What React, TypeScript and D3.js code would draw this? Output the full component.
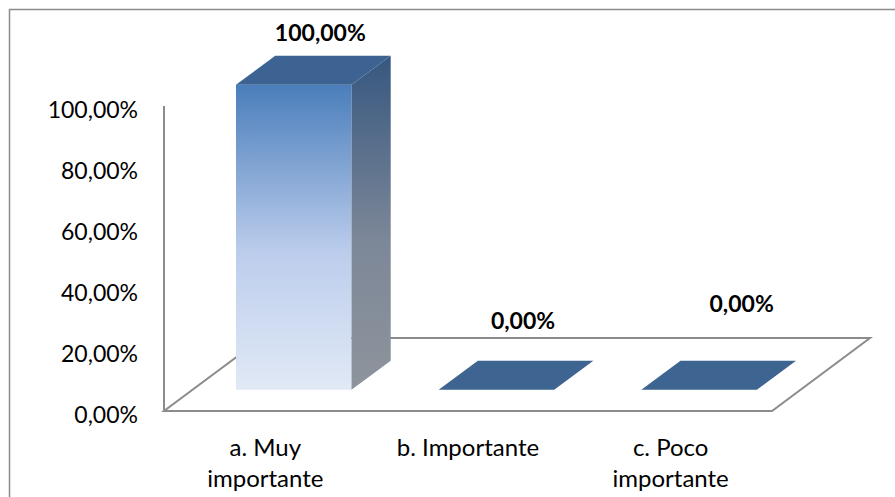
import * as d3 from 'd3';
import { useEffect, useRef } from 'react';

const categories = ['a. Muy importante', 'b. Importante', 'c. Poco importante'];
const values = [1, 0, 0];
const yTicks = [0, 0.2, 0.4, 0.6, 0.8, 1];

const WIDTH = 895;
const HEIGHT = 497;
const FONT = 'Lato, "Noto Sans", sans-serif';

const esLocale = d3.formatLocale({
  decimal: ',',
  thousands: '.',
  grouping: [3],
  currency: ['', '€'],
});
const pct = esLocale.format('.2%');

export default function App() {
  const svgRef = useRef<SVGSVGElement>(null);

  useEffect(() => {
    if (!svgRef.current) return;
    const svg = d3.select(svgRef.current);
    svg.selectAll('*').remove();

    // plot area (front plane of the floor) and depth of the 3D box
    const left = 164;
    const right = 772;
    const floorY = 411;
    const topY = 106;
    const depthX = 98;
    const depthY = 73;
    const zFront = 0.29;
    const zBack = 0.69;

    const xScale = d3.scaleBand().domain(categories).range([left, right]).padding(0);
    const yScale = d3.scaleLinear().domain([0, 1]).range([floorY, topY]);
    const barW = xScale.bandwidth() * 0.57;

    const px = (x: number, z: number) => x + z * depthX;
    const py = (y: number, z: number) => y - z * depthY;
    const pts = (arr: [number, number][]) => arr.map(p => p.join(',')).join(' ');

    const defs = svg.append('defs');
    const front = defs.append('linearGradient').attr('id', 'front')
      .attr('x1', 0).attr('y1', 0).attr('x2', 0).attr('y2', 1);
    front.append('stop').attr('offset', '0%').attr('stop-color', '#4a7ebb');
    front.append('stop').attr('offset', '55%').attr('stop-color', '#bccdec');
    front.append('stop').attr('offset', '100%').attr('stop-color', '#e1e9f6');

    const side = defs.append('linearGradient').attr('id', 'side')
      .attr('x1', 0).attr('y1', 0).attr('x2', 0).attr('y2', 1);
    side.append('stop').attr('offset', '0%').attr('stop-color', '#36577f');
    side.append('stop').attr('offset', '55%').attr('stop-color', '#7c8798');
    side.append('stop').attr('offset', '100%').attr('stop-color', '#8e949c');

    // chart frame
    svg.append('rect')
      .attr('x', 9.5).attr('y', 9.5)
      .attr('width', WIDTH).attr('height', HEIGHT)
      .attr('fill', 'white')
      .attr('stroke', '#8c8c8c')
      .attr('stroke-width', 1.5);

    // floor
    svg.append('polygon')
      .attr('points', pts([
        [px(left, 0), py(floorY, 0)],
        [px(right, 0), py(floorY, 0)],
        [px(right, 1), py(floorY, 1)],
        [px(left, 1), py(floorY, 1)],
      ]))
      .attr('fill', 'white')
      .attr('stroke', '#8c8c8c')
      .attr('stroke-width', 2);

    // value axis
    svg.append('line')
      .attr('x1', left).attr('x2', left)
      .attr('y1', yScale(0)).attr('y2', yScale(1))
      .attr('stroke', '#8c8c8c')
      .attr('stroke-width', 2);

    svg.selectAll('.tick-label')
      .data(yTicks)
      .join('text')
      .attr('class', 'tick-label')
      .attr('x', left - 26)
      .attr('y', d => yScale(d) + 3)
      .attr('text-anchor', 'end')
      .attr('dominant-baseline', 'central')
      .style('font-family', FONT)
      .style('font-size', '23px')
      .style('fill', '#000')
      .text(d => pct(d));

    // bars
    const bars = svg.selectAll('.bar')
      .data(categories.map((c, i) => ({ c, v: values[i] })))
      .join('g')
      .attr('class', 'bar');

    bars.each(function (d, i) {
      const g = d3.select(this);
      const x0 = (xScale(d.c) ?? 0) + (xScale.bandwidth() - barW) / 2;
      const x1 = x0 + barW;
      const yt = yScale(d.v);
      const yb = yScale(0);
      const fill = d.v > 0 ? '#3c6391' : '#3e6491';

      if (d.v > 0) {
        g.append('polygon')
          .attr('points', pts([
            [px(x0, zFront), py(yt, zFront)],
            [px(x1, zFront), py(yt, zFront)],
            [px(x1, zFront), py(yb, zFront)],
            [px(x0, zFront), py(yb, zFront)],
          ]))
          .attr('fill', 'url(#front)');
        g.append('polygon')
          .attr('points', pts([
            [px(x1, zFront), py(yt, zFront)],
            [px(x1, zBack), py(yt, zBack)],
            [px(x1, zBack), py(yb, zBack)],
            [px(x1, zFront), py(yb, zFront)],
          ]))
          .attr('fill', 'url(#side)');
      }
      g.append('polygon')
        .attr('points', pts([
          [px(x0, zFront), py(yt, zFront)],
          [px(x1, zFront), py(yt, zFront)],
          [px(x1, zBack), py(yt, zBack)],
          [px(x0, zBack), py(yt, zBack)],
        ]))
        .attr('fill', fill);

      // labels of the flat bars sit higher and further right the further right they are
      const lift = d.v > 0 ? 24 : 24 + i * 17;
      const shift = d.v > 0 ? 0 : (i - 1) * 16;
      g.append('text')
        .attr('x', px((x0 + x1) / 2, 0.5) + 6 + shift)
        .attr('y', py(yt, zBack) - lift)
        .attr('text-anchor', 'middle')
        .attr('dominant-baseline', 'central')
        .style('font-family', FONT)
        .style('font-size', '23px')
        .style('font-weight', 'bold')
        .style('fill', '#000')
        .text(pct(d.v));
    });

    // category labels, wrapped at the last space when too long
    const labels = svg.selectAll('.cat-label')
      .data(categories)
      .join('text')
      .attr('class', 'cat-label')
      .attr('x', d => (xScale(d) ?? 0) + xScale.bandwidth() / 2)
      .attr('y', 456)
      .attr('text-anchor', 'middle')
      .style('font-family', FONT)
      .style('font-size', '24px')
      .style('fill', '#000');

    labels.each(function (d) {
      const t = d3.select(this);
      const cx = (xScale(d) ?? 0) + xScale.bandwidth() / 2;
      const cut = d.lastIndexOf(' ');
      const lines = d.length > 14 ? [d.slice(0, cut), d.slice(cut + 1)] : [d];
      lines.forEach((line, i) => {
        t.append('tspan')
          .attr('x', cx)
          .attr('dy', i === 0 ? 0 : 31)
          .text(line);
      });
    });
  }, []);

  return (
    <svg
      ref={svgRef}
      width={WIDTH}
      height={HEIGHT}
      style={{ position: 'absolute', left: 0, top: 0, display: 'block' }}
    />
  );
}
